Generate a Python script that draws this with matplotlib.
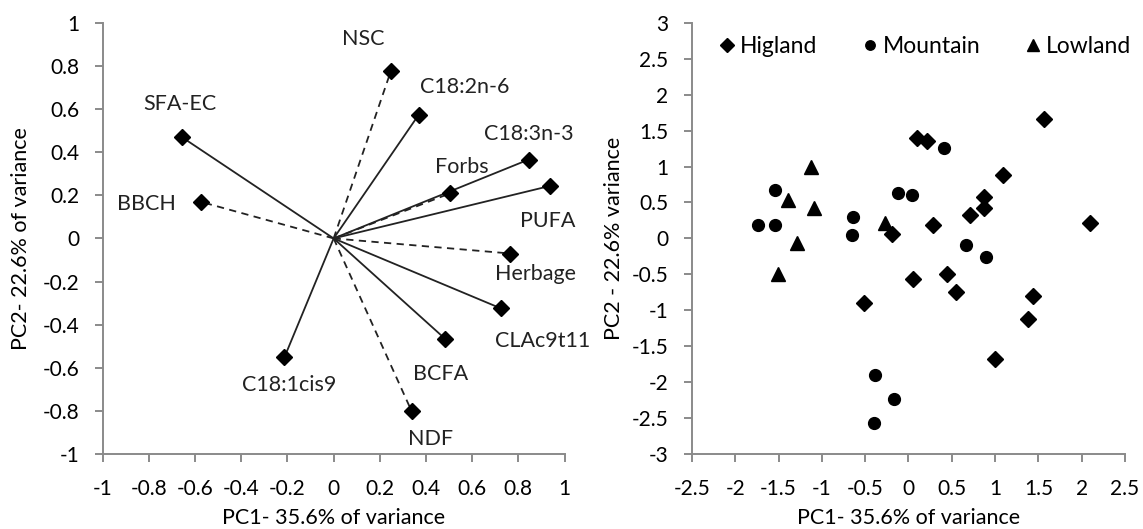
import matplotlib
matplotlib.use("Agg")
import matplotlib.pyplot as plt

plt.rcParams['font.family'] = ['Lato', 'DejaVu Sans']
plt.rcParams['font.size'] = 15

# PCA loadings (left panel)
variables = ['NSC', 'C18:2n-6', 'SFA-EC', 'C18:3n-3', 'Forbs', 'PUFA',
             'BBCH', 'Herbage', 'CLAc9t11', 'BCFA', 'C18:1cis9', 'NDF']
pc1_load = [0.248, 0.368, -0.656, 0.845, 0.504, 0.939,
            -0.576, 0.765, 0.723, 0.483, -0.213, 0.338]
pc2_load = [0.777, 0.573, 0.469, 0.366, 0.209, 0.244,
            0.170, -0.070, -0.324, -0.466, -0.551, -0.802]
dashed = ['NSC', 'Forbs', 'BBCH', 'Herbage', 'NDF']

# PCA scores (right panel)
hig_x = [1.566, 0.10, 0.216, 1.088, 0.876, 0.876, 0.706, 0.278, -0.19, 2.10,
         0.058, 0.449, 0.544, -0.519, 1.437, 1.375, 1.005]
hig_y = [1.668, 1.40, 1.355, 0.883, 0.57, 0.43, 0.327, 0.187, 0.065, 0.21,
         -0.56, -0.50, -0.747, -0.895, -0.807, -1.119, -1.677]
mou_x = [0.41, -1.537, -1.74, -1.537, -0.635, -0.656, -0.125, 0.037, 0.66, 0.893,
         -0.382, -0.17, -0.399]
mou_y = [1.257, 0.673, 0.187, 0.187, 0.30, 0.047, 0.63, 0.603, -0.089, -0.257,
         -1.9, -2.235, -2.57]
low_x = [-1.12, -1.395, -1.09, -0.274, -1.283, -1.507]
low_y = [0.99, 0.53, 0.42, 0.22, -0.06, -0.49]

# label offsets (data units) relative to each loading point
label_off = {
    'NSC': (-0.12, 0.15), 'C18:2n-6': (0.2, 0.13), 'SFA-EC': (-0.01, 0.155),
    'C18:3n-3': (0.0, 0.12), 'Forbs': (0.05, 0.12), 'PUFA': (-0.01, -0.165),
    'BBCH': (-0.235, -0.01), 'Herbage': (0.11, -0.095), 'CLAc9t11': (0.18, -0.15),
    'BCFA': (-0.02, -0.165), 'C18:1cis9': (0.02, -0.13), 'NDF': (0.083, -0.13),
}

spine_col = '#8a8a8a'

fig = plt.figure(figsize=(11.43, 5.29), dpi=100)
ax1 = fig.add_axes([0.0899, 0.1418, 0.404, 0.815])
ax2 = fig.add_axes([0.6054, 0.1418, 0.3788, 0.815])

for ax in (ax1, ax2):
    for s in ('top', 'right'):
        ax.spines[s].set_visible(False)
    for s in ('left', 'bottom'):
        ax.spines[s].set_color(spine_col)
        ax.spines[s].set_linewidth(1.4)
    ax.tick_params(direction='out', length=6, width=1.4, color=spine_col,
                   labelsize=15)
    ax.tick_params(axis='x', pad=12)
    ax.tick_params(axis='y', pad=11)

# left panel: loadings
for name, x, y in zip(variables, pc1_load, pc2_load):
    ls = (0, (4, 3)) if name in dashed else '-'
    ax1.plot([0, x], [0, y], color='#222222', lw=1.3, linestyle=ls)
    ax1.plot(x, y, marker='D', color='black', markersize=8.5, linestyle='none')
    dx, dy = label_off[name]
    ax1.text(x + dx, y + dy, name, ha='center', va='center', fontsize=15.5,
             color='#222222')

ax1.set_xlim(-1, 1)
ax1.set_ylim(-1, 1)
ticks = [-1, -0.8, -0.6, -0.4, -0.2, 0, 0.2, 0.4, 0.6, 0.8, 1]
tick_lbls = ['-1', '-0.8', '-0.6', '-0.4', '-0.2', '0', '0.2', '0.4', '0.6', '0.8', '1']
ax1.set_xticks(ticks)
ax1.set_xticklabels(tick_lbls)
ax1.set_yticks(ticks)
ax1.set_yticklabels(tick_lbls)
ax1.set_xlabel('PC1- 35.6% of variance', fontsize=15.5)
ax1.set_ylabel('PC2- 22.6% of variance', fontsize=15.5)

# right panel: scores
ax2.plot(hig_x, hig_y, marker='D', color='black', markersize=8.5,
         linestyle='none', label='Higland')
ax2.plot(mou_x, mou_y, marker='o', color='black', markersize=8.5,
         linestyle='none', label='Mountain')
ax2.plot(low_x, low_y, marker='^', color='black', markersize=10,
         linestyle='none', label='Lowland')

ax2.set_xlim(-2.5, 2.5)
ax2.set_ylim(-3, 3)
xt = [-2.5, -2, -1.5, -1, -0.5, 0, 0.5, 1, 1.5, 2, 2.5]
yt = [-3, -2.5, -2, -1.5, -1, -0.5, 0, 0.5, 1, 1.5, 2, 2.5, 3]
ax2.set_xticks(xt)
ax2.set_xticklabels(['%g' % v for v in xt])
ax2.set_yticks(yt)
ax2.set_yticklabels(['%g' % v for v in yt])
ax2.set_xlabel('PC1- 35.6% of variance', fontsize=15.5)
ax2.set_ylabel('PC2 - 22.6% variance', fontsize=15.5)

ax1.xaxis.set_label_coords(0.5, -0.125)
ax2.xaxis.set_label_coords(0.5, -0.125)
ax1.yaxis.set_label_coords(-0.155, 0.5)
ax2.yaxis.set_label_coords(-0.158, 0.5)

ax2.legend(loc='center', bbox_to_anchor=(0.54, 0.944), ncol=3, frameon=False,
           handlelength=0.6, handletextpad=0.25, columnspacing=2.0,
           fontsize=16.5, markerscale=0.8, borderaxespad=0.0)

fig.savefig('out.png', dpi=100)
